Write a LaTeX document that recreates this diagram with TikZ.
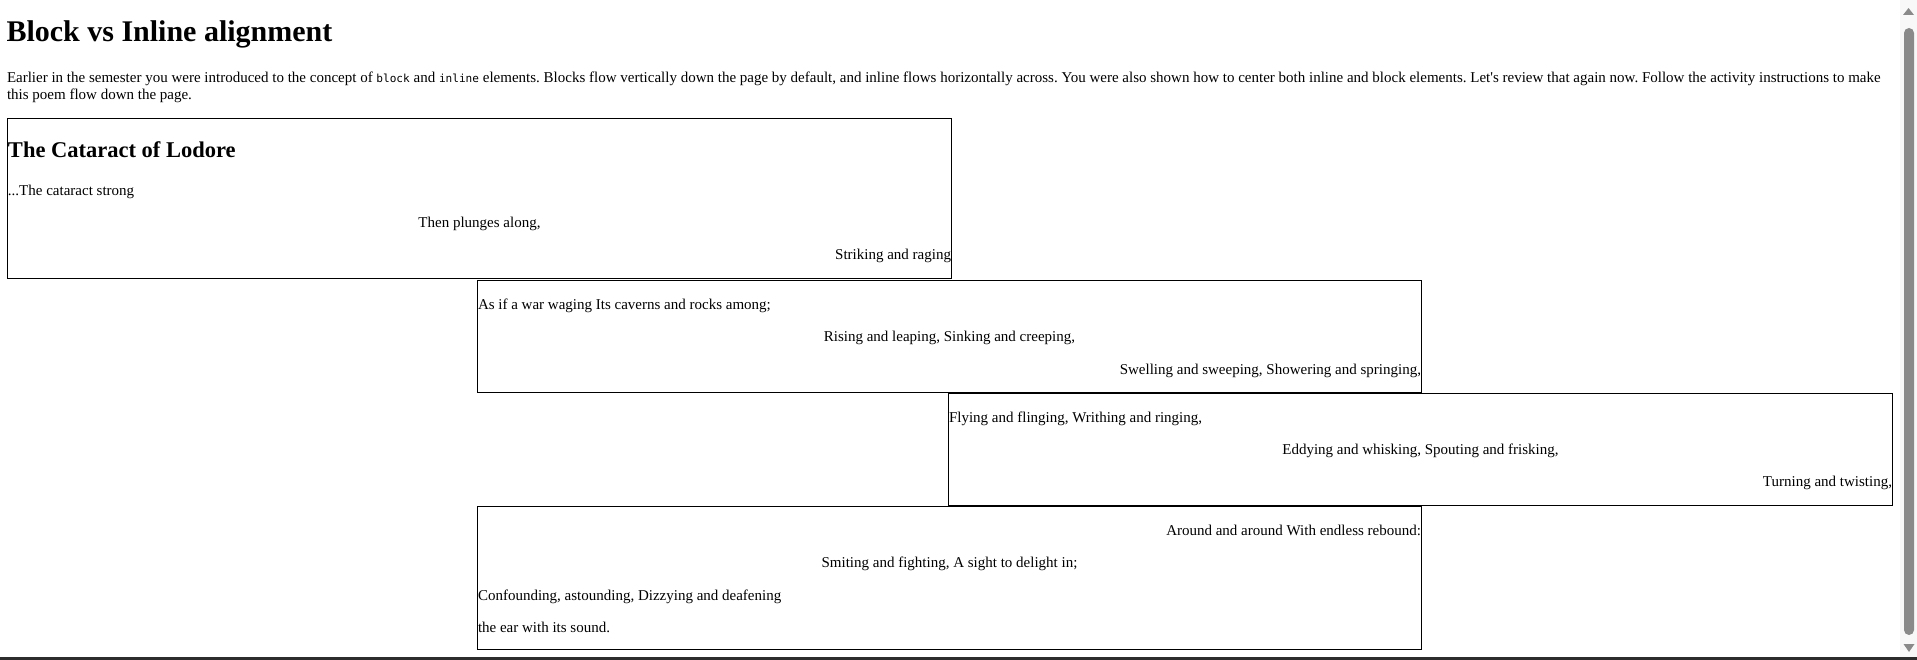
\documentclass[tikz,border=0pt]{standalone}
\usepackage{fontspec}
\setmainfont{Liberation Serif}[Ligatures=TeXOff]
\newfontfamily\codefont{DejaVu Sans Mono}
\frenchspacing
\definecolor{barcol}{RGB}{138,138,138}
\definecolor{trackcol}{RGB}{248,248,248}
\definecolor{bottomcol}{RGB}{45,45,45}
\tikzset{
  boxline/.style={draw=black, line width=1pt},
  txt/.style={inner sep=0pt, outer sep=0pt, font=\fontsize{15}{17.25}\selectfont},
  htwo/.style={inner sep=0pt, outer sep=0pt, font=\fontsize{22.5}{26}\selectfont\bfseries},
  hone/.style={inner sep=0pt, outer sep=0pt, font=\fontsize{30}{34}\selectfont\bfseries},
}
\newcommand{\cd}[1]{{\codefont\fontsize{11.1}{13}\selectfont #1}}
\begin{document}
\begin{tikzpicture}[x=1pt,y=-1pt]
\useasboundingbox (0,0) rectangle (1917,660);
\fill[white] (0,0) rectangle (1917,660);
% heading and intro
\node[hone, anchor=base west] (title) at (6.5,42) {Block vs Inline alignment};
\node[txt, anchor=base west] (intro1) at (7,82.5) {\frenchspacing Earlier in the semester you were introduced to the concept of \cd{block} and \cd{inline} elements. Blocks flow vertically down the page by default, and inline flows horizontally across. You were also shown how to center both inline and block elements. Let's review that again now. Follow the activity instructions to make};
\node[txt, anchor=base west] (intro2) at (7,99.5) {this poem flow down the page.};
% boxes
\path[boxline] (7.5,118.5) rectangle (951.5,278.5) coordinate (b1);
\path[boxline] (477.5,280.5) rectangle (1421.5,392) coordinate (b2);
\path[boxline] (948.5,393.5) rectangle (1892.5,505) coordinate (b3);
\path[boxline] (477.5,506.5) rectangle (1421.5,649.5) coordinate (b4);
% box 1
\node[htwo, anchor=base west] (h2) at (8,158) {The Cataract of Lodore};
\node[txt, anchor=base west] (l1) at (8,196) {...The cataract strong};
\node[txt, anchor=base] (l2) at (479.5,228) {Then plunges along,};
\node[txt, anchor=base east] (l3) at (951,260) {Striking and raging};
% box 2
\node[txt, anchor=base west] (l4) at (478,309.5) {As if a war waging Its caverns and rocks among;};
\node[txt, anchor=base] (l5) at (949.5,341.7) {Rising and leaping, Sinking and creeping,};
\node[txt, anchor=base east] (l6) at (1421,374) {Swelling and sweeping, Showering and springing,};
% box 3
\node[txt, anchor=base west] (l7) at (949,422) {Flying and flinging, Writhing and ringing,};
\node[txt, anchor=base] (l8) at (1420.5,454.2) {Eddying and whisking, Spouting and frisking,};
\node[txt, anchor=base east] (l9) at (1892,486.5) {Turning and twisting,};
% box 4
\node[txt, anchor=base east] (l10) at (1421,535.5) {Around and around With endless rebound:};
\node[txt, anchor=base] (l11) at (949.5,567.7) {Smiting and fighting, A sight to delight in;};
\node[txt, anchor=base west] (l12) at (478,600) {Confounding, astounding, Dizzying and deafening};
\node[txt, anchor=base west] (l13) at (478,632.2) {the ear with its sound.};
% scrollbar
\fill[trackcol] (1900,0) rectangle (1917,657);
\fill[barcol] (1903,15) -- (1914,15) -- (1908.5,8) -- cycle;
\fill[barcol, rounded corners=5pt] (1904,28) rectangle (1914,635);
\fill[barcol] (1903.5,644) -- (1914.5,644) -- (1909,652) -- cycle;
% bottom bar
\fill[bottomcol] (0,657) rectangle (1917,660);
\end{tikzpicture}
\end{document}
